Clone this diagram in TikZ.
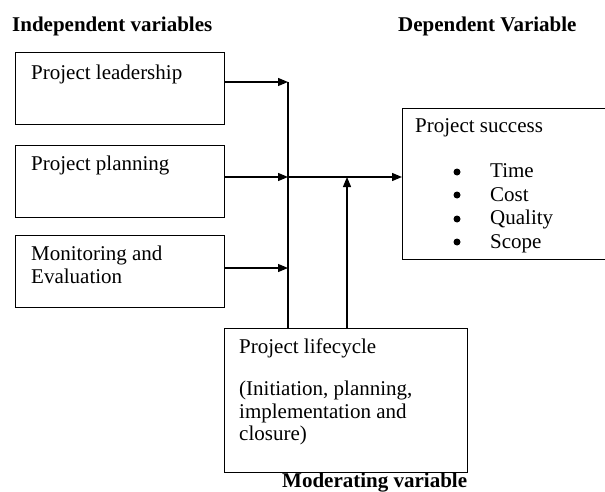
\documentclass[tikz,border=0pt]{standalone}
\usepackage{fontspec}
\setmainfont{Liberation Serif}
\usetikzlibrary{arrows.meta}
\begin{document}
\begin{tikzpicture}[x=1pt,y=-1pt,
  box/.style={draw=black,line width=1.2pt,rectangle,inner sep=0pt,anchor=north west},
  txt/.style={anchor=base west,inner sep=0pt,font=\fontsize{21}{24}\selectfont},
  head/.style={anchor=base west,inner sep=0pt,font=\fontsize{21}{24}\selectfont\bfseries},
  dot/.style={circle,fill=black,inner sep=0pt,minimum size=7pt},
  conn/.style={line width=1.2pt,draw=black},
  arr/.style={conn,-{Triangle[length=10pt,width=8pt]}}]
\useasboundingbox (0,0) rectangle (605,492);
% headings
\node[head] (hind) at (12,32) {Independent variables};
\node[head] (hdep) at (398,32) {Dependent Variable};
\node[head] (hmod) at (282,487) {Moderating variable};
% boxes
\node[box,minimum width=209pt,minimum height=72pt] (b1) at (15,52) {};
\node[box,minimum width=209pt,minimum height=72pt] (b2) at (15,145) {};
\node[box,minimum width=209pt,minimum height=72pt] (b3) at (15,235) {};
\node[box,minimum width=205pt,minimum height=151pt] (ps) at (402,108) {};
\node[box,minimum width=243pt,minimum height=144pt] (lc) at (224,328) {};
% texts
\node[txt] (t1) at (31,80) {Project leadership};
\node[txt] (t2) at (31,170) {Project planning};
\node[txt] (t3a) at (31,260) {Monitoring and};
\node[txt] (t3b) at (31,283) {Evaluation};
\node[txt] (tps) at (415,133) {Project success};
\node[dot] (bu1) at (457,172) {};
\node[dot] (bu2) at (457,195) {};
\node[dot] (bu3) at (457,219) {};
\node[dot] (bu4) at (457,242) {};
\node[txt] (i1) at (490,178) {Time};
\node[txt] (i2) at (490,201) {Cost};
\node[txt] (i3) at (490,224.5) {Quality};
\node[txt] (i4) at (490,248) {Scope};
\node[txt] (tl1) at (239,353) {Project lifecycle};
\node[txt] (tl2) at (239,395) {(Initiation, planning,};
\node[txt] (tl3) at (239,418) {implementation and};
\node[txt] (tl4) at (239,440) {closure)};
% junctions
\coordinate (j1) at (288,82);
\coordinate (j2) at (288,177);
\coordinate (j3) at (288,268);
\coordinate (m) at (347,177);
% connectors
\draw[arr] (b1.east |- j1) -- (j1);
\draw[arr] (b2.east |- j2) -- (j2);
\draw[arr] (b3.east |- j3) -- (j3);
\draw[conn] (j1) -- (lc.north -| j1);
\draw[arr] (j2) -- (ps.west |- j2);
\draw[arr] (lc.north -| m) -- (m);
\end{tikzpicture}
\end{document}
